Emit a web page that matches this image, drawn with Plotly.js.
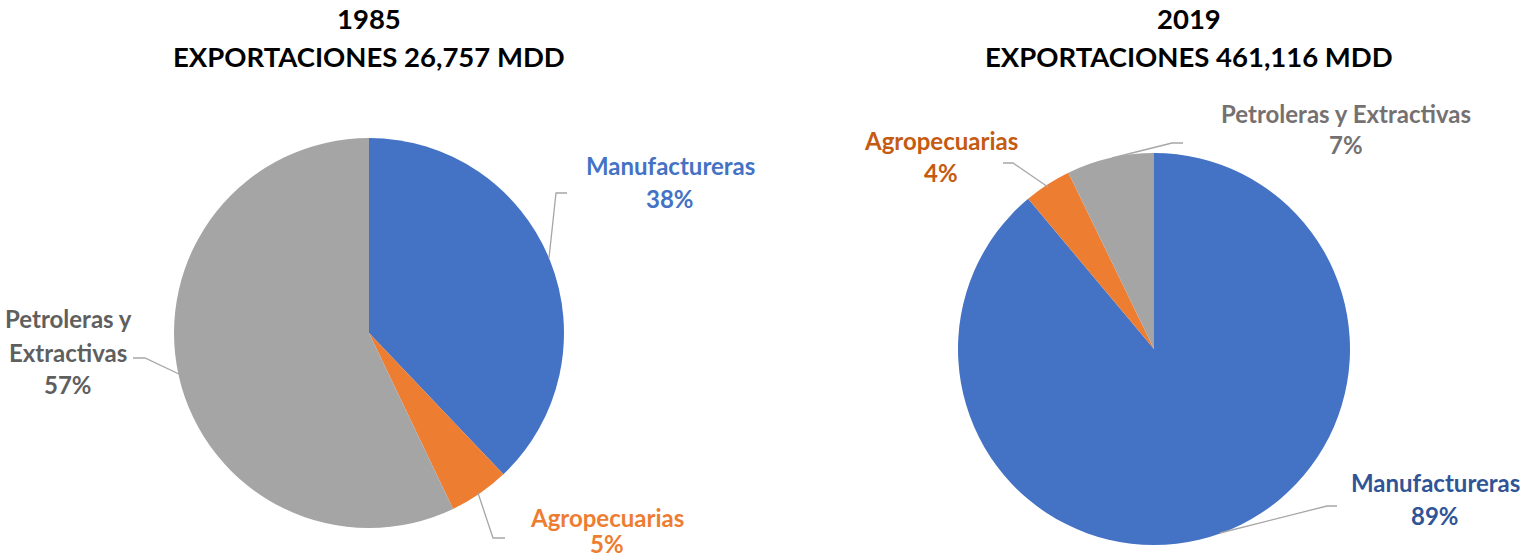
<!DOCTYPE html>
<html><head><meta charset="utf-8">
<script src="https://cdn.plot.ly/plotly-3.0.1.min.js"></script>
<style>html,body{margin:0;padding:0;background:#fff}#c{width:1526px;height:560px}</style>
</head><body><div id="c"></div>
<script>
const categories = ["Manufactureras", "Agropecuarias", "Petroleras y Extractivas"];
const values1985 = [37.9, 5.0, 57.1];
const values2019 = [88.9, 3.9, 7.2];
const years = ["1985", "2019"];
const exportTotals = ["26,757", "461,116"];
const sliceColors = ["#4472C4", "#ED7D31", "#A5A5A5"];
const labelColors1985 = ["#4472C4", "#ED7D31", "#5F5F5F"];
const labelColors2019 = ["#2F5597", "#C55A11", "#767171"];

const W = 1526, H = 560;
const px = x => x / W, py = y => 1 - y / H;
const FONT = "Lato, Carlito, Calibri, 'Open Sans', sans-serif";

function pieTrace(vals, cx, cy, r) {
  return {
    type: "pie", labels: categories, values: vals, sort: false,
    direction: "clockwise", rotation: 0, textinfo: "none", hoverinfo: "label+percent",
    marker: {colors: sliceColors, line: {width: 0}},
    domain: {x: [px(cx - r), px(cx + r)], y: [py(cy + r), py(cy - r)]},
    showlegend: false
  };
}
const pct = (vals, i) => Math.round(vals[i] / vals.reduce((a, b) => a + b, 0) * 100) + "%";

const annotations = [];
function txt(t, x, y, color, size) {
  annotations.push({text: "<b>" + t + "</b>", x: px(x), y: py(y), xref: "paper", yref: "paper",
    xanchor: "center", yanchor: "middle", showarrow: false,
    font: {family: FONT, size: size, color: color}});
}
const TS = 27.5;
// titles
txt(years[0], 369, 19, "#000", TS);
txt("EXPORTACIONES " + exportTotals[0] + " MDD", 369, 57, "#000", TS);
txt(years[1], 1189, 19, "#000", TS);
txt("EXPORTACIONES " + exportTotals[1] + " MDD", 1189, 57, "#000", TS);

const LS = 24;
// 1985 labels
txt(categories[0], 670, 165, labelColors1985[0], LS);
txt(pct(values1985, 0), 670, 198, labelColors1985[0], LS);
txt(categories[1], 607, 517, labelColors1985[1], LS);
txt(pct(values1985, 1), 607, 543, labelColors1985[1], LS);
const petroWords = categories[2].split(" ");
txt(petroWords.slice(0, 2).join(" "), 68, 318, labelColors1985[2], LS);
txt(petroWords.slice(2).join(" "), 68, 352, labelColors1985[2], LS);
txt(pct(values1985, 2), 68, 384, labelColors1985[2], LS);
// 2019 labels
txt(categories[0], 1435, 482, labelColors2019[0], LS);
txt(pct(values2019, 0), 1435, 515, labelColors2019[0], LS);
txt(categories[1], 941, 140, labelColors2019[1], LS);
txt(pct(values2019, 1), 941, 172, labelColors2019[1], LS);
txt(categories[2], 1346, 114, labelColors2019[2], LS);
txt(pct(values2019, 2), 1346, 145, labelColors2019[2], LS);

// leader lines
const shapes = [];
function leader(pts) {
  const path = pts.map((p, i) => (i ? "L" : "M") + px(p[0]) + "," + py(p[1])).join(" ");
  shapes.push({type: "path", xref: "paper", yref: "paper", path: path,
    line: {color: "#A6A6A6", width: 1.3}});
}
leader([[549, 258], [556, 193], [567, 193]]);
leader([[478, 493], [493, 538], [505, 538]]);
leader([[133, 358], [145, 358], [181, 375]]);
leader([[1003, 163], [1013, 163], [1048, 187]]);
leader([[1112, 158], [1172, 143], [1183, 143]]);
leader([[1220, 533], [1327, 506], [1337, 506]]);

const layout = {
  width: W, height: H, margin: {l: 0, r: 0, t: 0, b: 0},
  paper_bgcolor: "#fff", plot_bgcolor: "#fff",
  font: {family: FONT},
  annotations: annotations, shapes: shapes
};
Plotly.newPlot("c", [pieTrace(values1985, 369, 333, 195), pieTrace(values2019, 1154, 349, 196)], layout, {displayModeBar: false, staticPlot: true});
</script></body></html>
